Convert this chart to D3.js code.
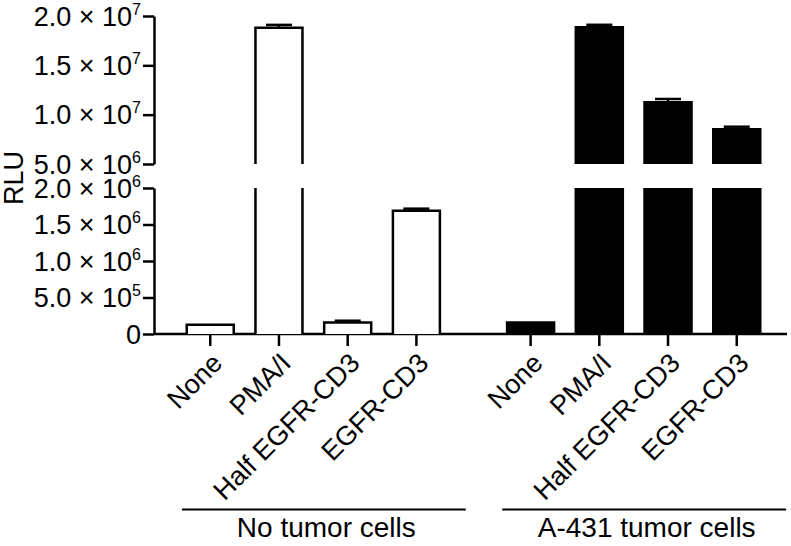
<!DOCTYPE html>
<html>
<head>
<meta charset="utf-8">
<script src="https://cdn.jsdelivr.net/npm/d3@7/dist/d3.min.js"></script>
<style>
  html, body { margin: 0; padding: 0; background: #fff; }
  svg text { font-family: "Liberation Sans", Arial, Helvetica, sans-serif; fill: #000; }
</style>
</head>
<body>
<svg id="chart" width="791" height="546"></svg>
<script>
// ---- data ----
const groups = ["No tumor cells", "A-431 tumor cells"];
const categories = ["None", "PMA/I", "Half EGFR-CD3", "EGFR-CD3"];
const noTumorValues = [1.27e5, 1.88e7, 1.59e5, 1.69e6];
const noTumorErrors = [0, 3.0e5, 2.3e4, 2.7e4];
const a431Values = [1.59e5, 1.885e7, 1.125e7, 8.51e6];
const a431Errors = [0, 2.6e5, 3.4e5, 2.7e5];
const groupFills = ["#ffffff", "#000000"];
const upperTicks = [5e6, 1e7, 1.5e7, 2e7];
const lowerTicks = [0, 5e5, 1e6, 1.5e6, 2e6];
const upperDomain = [5e6, 2e7];
const lowerDomain = [0, 2e6];
const yTitle = "RLU";

const seriesValues = [noTumorValues, a431Values];
const seriesErrors = [noTumorErrors, a431Errors];

const svg = d3.select("#chart");
const axisX = 154;
const baseY = 334;

// scales
const yUpper = d3.scaleLinear().domain(upperDomain).range([164, 16]);
const yLower = d3.scaleLinear().domain(lowerDomain).range([baseY, 188]);
const xGroup = d3.scaleBand().domain(groups).range([175.9, 771.1]).paddingInner(0.142).paddingOuter(0);
const xCat = d3.scaleBand().domain(categories).range([0, xGroup.bandwidth()]).paddingInner(0.316).paddingOuter(0.158);

const SW = 2.5;

function sciLabel(sel) {
  sel.each(function(d) {
    const t = d3.select(this);
    t.text(null);
    if (d === 0) { t.append("tspan").text("0"); return; }
    const e = Math.floor(Math.log10(d) + 1e-9);
    const m = d / Math.pow(10, e);
    t.append("tspan").text(m.toFixed(1) + " \u00D7 10");
    t.append("tspan").attr("font-size", "16px").attr("dy", "-11").text(String(e));
  });
}

function drawYAxis(scale, ticks) {
  const g = svg.append("g").attr("transform", `translate(${axisX},0)`)
    .call(d3.axisLeft(scale).tickValues(ticks).tickSize(11).tickSizeOuter(0).tickPadding(2));
  g.selectAll("path.domain, line").attr("stroke", "#000").attr("stroke-width", SW);
  g.selectAll("text").attr("font-size", "27px").attr("dy", "0.34em").attr("x", -13).call(sciLabel);
  return g;
}
drawYAxis(yUpper, upperTicks);
drawYAxis(yLower, lowerTicks);

// x axis baseline
svg.append("line").attr("x1", axisX).attr("x2", 787).attr("y1", baseY).attr("y2", baseY)
  .attr("stroke", "#000").attr("stroke-width", SW);

// bars
groups.forEach((grp, gi) => {
  const g = svg.append("g").attr("transform", `translate(${xGroup(grp)},0)`);
  const vals = seriesValues[gi], errs = seriesErrors[gi];
  const fill = groupFills[gi];
  categories.forEach((cat, ci) => {
    const v = vals[ci];
    const x0 = xCat(cat), w = xCat.bandwidth(), x1 = x0 + w;
    const cx = x0 + w / 2;
    // lower segment
    const lowTop = yLower(Math.min(v, lowerDomain[1]));
    g.append("rect").attr("x", x0).attr("y", lowTop).attr("width", w).attr("height", baseY - lowTop)
      .attr("fill", fill).attr("stroke", "none");
    const lowPath = v > lowerDomain[1]
      ? `M${x0},${lowTop}V${baseY}M${x1},${lowTop}V${baseY}`
      : `M${x0},${baseY}V${lowTop}H${x1}V${baseY}`;
    g.append("path").attr("d", lowPath).attr("fill", "none").attr("stroke", "#000").attr("stroke-width", SW);
    let top;
    if (v > upperDomain[0]) {
      top = yUpper(v);
      const upBot = yUpper(upperDomain[0]);
      g.append("rect").attr("x", x0).attr("y", top).attr("width", w).attr("height", upBot - top)
        .attr("fill", fill).attr("stroke", "none");
      g.append("path").attr("d", `M${x0},${upBot}V${top}H${x1}V${upBot}`)
        .attr("fill", "none").attr("stroke", "#000").attr("stroke-width", SW);
    } else {
      top = lowTop;
    }
    // error bar (upper)
    const err = errs[ci];
    if (err > 0) {
      const sc = v > upperDomain[0] ? yUpper : yLower;
      const ey = sc(v + err);
      g.append("line").attr("x1", cx).attr("x2", cx).attr("y1", top).attr("y2", ey)
        .attr("stroke", "#000").attr("stroke-width", SW);
      g.append("line").attr("x1", cx - 13).attr("x2", cx + 13).attr("y1", ey).attr("y2", ey)
        .attr("stroke", "#000").attr("stroke-width", SW);
    }
    // x tick
    g.append("line").attr("x1", cx).attr("x2", cx).attr("y1", baseY).attr("y2", baseY + 12)
      .attr("stroke", "#000").attr("stroke-width", SW);
    // x label
    g.append("text").attr("transform", `translate(${cx + 7},${358}) rotate(-45)`)
      .attr("text-anchor", "end").attr("dy", "0.35em").attr("font-size", "27px").text(cat);
  });
  // group line + label
  const gx0 = xGroup(grp), gx1 = gx0 + xGroup.bandwidth();
  svg.append("line").attr("x1", gx0 + 6).attr("x2", gx1 + 15).attr("y1", 509.5).attr("y2", 509.5)
    .attr("stroke", "#000").attr("stroke-width", 2);
  svg.append("text").attr("x", (gx0 + gx1) / 2 + 13).attr("y", 537).attr("text-anchor", "middle")
    .attr("font-size", "28px").text(grp);
});

// y title
svg.append("text").attr("transform", "translate(23,178) rotate(-90)").attr("text-anchor", "middle")
  .attr("font-size", "27px").text(yTitle);
</script>
</body>
</html>
